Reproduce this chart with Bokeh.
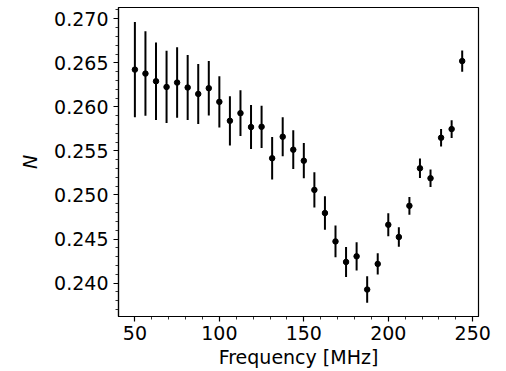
from bokeh.plotting import figure
from bokeh.models import FixedTicker, PrintfTickFormatter, Range1d, ColumnDataSource
from bokeh.embed import file_html
from bokeh.resources import INLINE

freq = [50.0, 56.25, 62.5, 68.75, 75.0, 81.25, 87.5, 93.75, 100.0, 106.25,
        112.5, 118.75, 125.0, 131.25, 137.5, 143.75, 150.0, 156.25, 162.5, 168.75,
        175.0, 181.25, 187.5, 193.75, 200.0, 206.25, 212.5, 218.75, 225.0, 231.25,
        237.5, 243.75]
n_val = [0.26423, 0.26378, 0.26291, 0.26226, 0.26276, 0.26220, 0.26147, 0.26212,
         0.26057, 0.25842, 0.25929, 0.25771, 0.25774, 0.25417, 0.25661, 0.25514,
         0.25389, 0.25058, 0.24795, 0.24473, 0.24240, 0.24304, 0.23927, 0.24218,
         0.24662, 0.24523, 0.24877, 0.25303, 0.25190, 0.25650, 0.25748, 0.26520]
n_err = [0.0054, 0.0048, 0.0044, 0.0041, 0.0040, 0.0037, 0.0034, 0.0031,
         0.0029, 0.0028, 0.0026, 0.0025, 0.0024, 0.0024, 0.0022, 0.0022,
         0.0020, 0.0020, 0.0019, 0.0018, 0.0017, 0.0016, 0.0015, 0.0012,
         0.0013, 0.0011, 0.0010, 0.0011, 0.0010, 0.0010, 0.0010, 0.0012]

x_ticks = [50, 100, 150, 200, 250]
y_ticks = [0.240, 0.245, 0.250, 0.255, 0.260, 0.265, 0.270]

src = ColumnDataSource(dict(
    x=freq, y=n_val,
    lo=[v - e for v, e in zip(n_val, n_err)],
    hi=[v + e for v, e in zip(n_val, n_err)],
))

p = figure(width=500, height=370, output_backend="svg", toolbar_location=None,
           x_range=Range1d(40.3, 253.4), y_range=Range1d(0.23621, 0.27128),
           min_border_left=118, min_border_right=22, min_border_top=7,
           min_border_bottom=53)
p.grid.visible = False
p.outline_line_color = "black"
p.outline_line_width = 1.2
p.background_fill_color = "white"
p.border_fill_color = "white"

p.segment(x0="x", y0="lo", x1="x", y1="hi", source=src, line_color="black", line_width=2)
p.scatter(x="x", y="y", source=src, size=5.5, color="black")

p.xaxis.ticker = FixedTicker(ticks=x_ticks, minor_ticks=list(range(40, 260, 10)))
p.yaxis.ticker = FixedTicker(ticks=y_ticks,
                             minor_ticks=[round(0.236 + 0.001 * i, 3) for i in range(36)])
p.yaxis.formatter = PrintfTickFormatter(format="%.3f")

for ax in (p.xaxis[0], p.yaxis[0]):
    ax.major_label_text_font = "DejaVu Sans"
    ax.major_label_text_font_size = "19px"
    ax.major_label_text_color = "black"
    ax.axis_label_text_font = "DejaVu Sans"
    ax.axis_label_text_font_size = "19px"
    ax.axis_label_text_font_style = "normal"
    ax.axis_label_text_color = "black"
    ax.axis_line_color = "black"
    ax.axis_line_width = 1.2
    ax.major_tick_line_color = "black"
    ax.minor_tick_line_color = "black"
    ax.major_tick_out = 5
    ax.major_tick_in = 0
    ax.minor_tick_out = 3
    ax.minor_tick_in = 0
    ax.major_tick_line_width = 1.2
    ax.minor_tick_line_width = 0.8

p.xaxis.axis_label = "Frequency [MHz]"
p.yaxis.axis_label = "N"
p.yaxis.axis_label_text_font_style = "italic"
p.xaxis.major_label_standoff = 4
p.yaxis.major_label_standoff = 5
p.xaxis.axis_label_standoff = 3
p.yaxis.axis_label_standoff = 10

open("out.html", "w").write(file_html(p, INLINE))
